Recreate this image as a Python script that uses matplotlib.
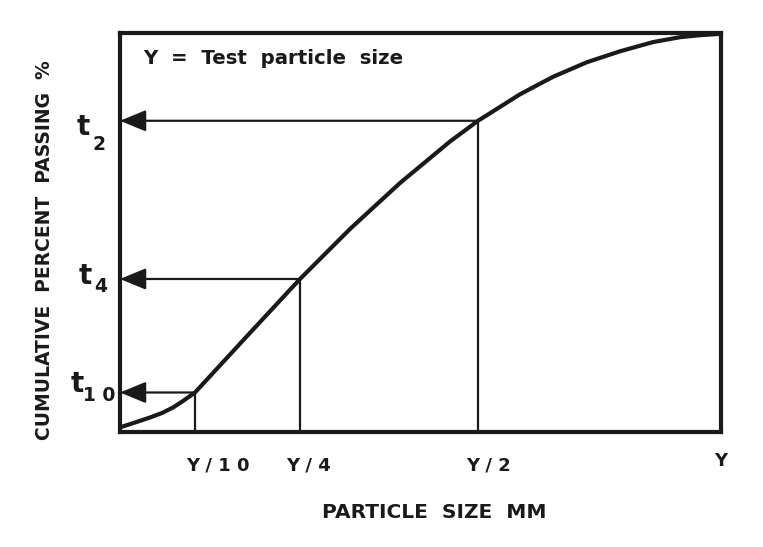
import matplotlib
matplotlib.use("Agg")
import matplotlib.pyplot as plt

plt.rcParams['font.family'] = ['DejaVu Sans']
plt.rcParams['font.weight'] = 'bold'

# Data (particle size as % of Y, cumulative percent passing)
curve_x = [0.17, 2.50, 4.99, 6.99, 8.82, 10.48, 11.65, 12.48, 21.30, 29.95, 38.27, 46.59,
           54.91, 59.57, 66.56, 72.05, 77.70, 83.19, 88.69, 93.18, 96.51, 99.50]
curve_y = [1.25, 2.38, 3.63, 4.76, 6.14, 7.77, 9.02, 9.90, 24.31, 38.35, 50.88, 62.41,
           72.81, 78.00, 84.64, 89.02, 92.68, 95.41, 97.72, 98.95, 99.45, 99.75]

split_x = [12.48, 29.95, 59.57]
split_y = [9.9, 38.35, 78.0]
x_labels = ["Y / 1 0", "Y / 4", "Y / 2", "Y"]
t_main = ["t", "t", "t"]
t_sub = ["1 0", "4", "2"]

W, H = 763, 547
fig = plt.figure(figsize=(W / 100, H / 100), dpi=100)
ax = fig.add_axes([120 / W, (H - 432) / H, 601 / W, 399 / H])
ax.set_xlim(0, 100)
ax.set_ylim(0, 100)
ax.set_xticks([])
ax.set_yticks([])
col = '#1a1a1a'
for s in ax.spines.values():
    s.set_linewidth(3.0)
    s.set_color(col)

ax.plot(curve_x, curve_y, color=col, lw=3.0, solid_capstyle='round',
        solid_joinstyle='round', clip_on=False, zorder=3)

for xv, yv in zip(split_x, split_y):
    ax.plot([xv, xv], [0, yv], color=col, lw=1.6, zorder=2)
    ax.annotate("", xy=(0, yv), xytext=(xv, yv),
                arrowprops=dict(arrowstyle="-|>,head_length=0.8,head_width=0.33",
                                mutation_scale=20, color=col, lw=1.6,
                                shrinkA=0, shrinkB=0), zorder=2)

# x labels (offsets in pixels from split positions)
pt = 72 / 100
label_xpos = split_x + [100.0]
label_dx = [23, 9, 10, 0]
label_dy = [-34, -34, -34, -29]
for xv, lab, dx, dy in zip(label_xpos, x_labels, label_dx, label_dy):
    ax.annotate(lab, xy=(xv, 0), xytext=(dx * pt, dy * pt), textcoords='offset points',
                ha='center', va='center', fontsize=13, fontweight='bold', color=col,
                annotation_clip=False)

# t labels
t_off = [(-43, 0), (-35, -5), (-37, -14)]
s_off = [(-20.5, -9), (-19, -13), (-21, -29)]
for yv, m, sb, (tdx, tdy), (sdx, sdy) in zip(split_y, t_main, t_sub, t_off, s_off):
    ax.annotate(m, xy=(0, yv), xytext=(tdx * pt, tdy * pt), textcoords='offset points',
                ha='center', va='baseline', fontsize=20, fontweight='bold', color=col,
                annotation_clip=False)
    ax.annotate(sb, xy=(0, yv), xytext=(sdx * pt, sdy * pt), textcoords='offset points',
                ha='center', va='baseline', fontsize=13.5, fontweight='bold', color=col,
                annotation_clip=False)

ax.text(0.038, 0.935, "Y  =  Test  particle  size", transform=ax.transAxes,
        ha='left', va='center', fontsize=14.2, fontweight='bold', color=col)

fig.text(434 / W, 1 - 513 / H, "PARTICLE  SIZE  MM", ha='center', va='center',
         fontsize=14.5, fontweight='bold', color=col)
fig.text(45 / W, 1 - 250 / H, "CUMULATIVE  PERCENT  PASSING  %", ha='center', va='center',
         rotation=90, fontsize=13.5, fontweight='bold', color=col)

fig.savefig("out.png", dpi=100, facecolor='white')
